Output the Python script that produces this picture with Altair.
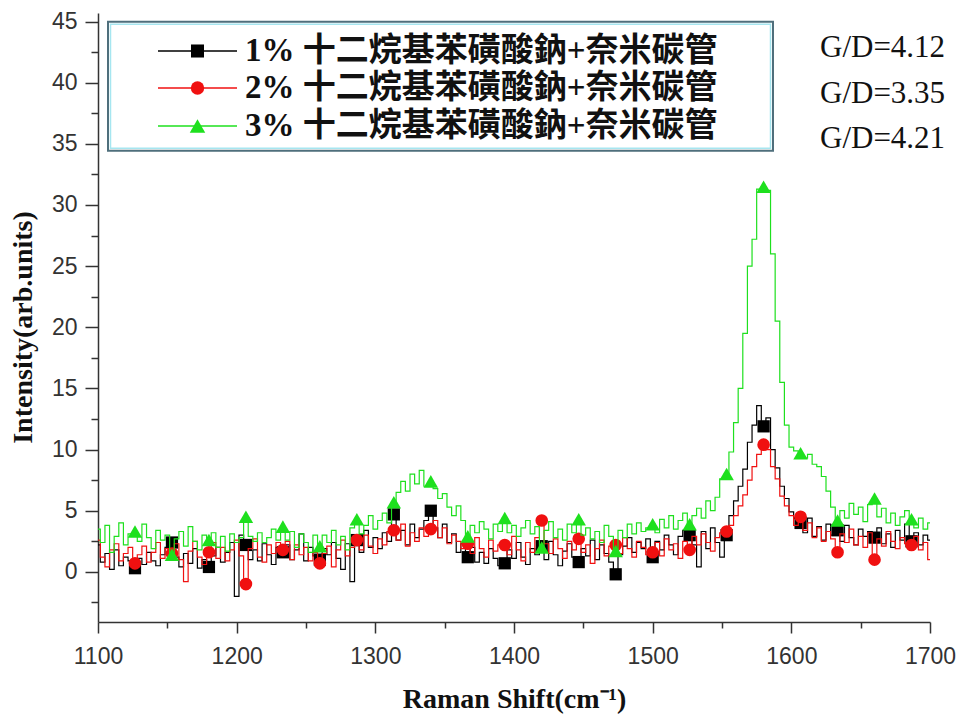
import altair as alt
import pandas as pd

# ---------------- data ----------------
series_names = [
    "1% 十二烷基苯磺酸鈉+奈米碳管",
    "2% 十二烷基苯磺酸鈉+奈米碳管",
    "3% 十二烷基苯磺酸鈉+奈米碳管",
]
series_colors = ["#000000", "#f01010", "#1ee01e"]
series_shapes = ["square", "circle", "triangle-up"]
gd_labels = ["G/D=4.12", "G/D=3.35", "G/D=4.21"]

x_start = 1100
x_step = 10 / 3          # Raman shift sampling (cm-1)
marker_every = 8         # a symbol every 8th sample

y_1pct = [
    2.2, 0.8, 1.5, 0.2, 1.8, 0.5, 1.2, 0.9,
    0.3, 1.1, 0.6, 1.6, 0.9, 0.5, 1.4, 2.0,
    2.4, 1.2, 0.4, 1.5, 0.7, 1.9, 0.3, 1.0,
    0.4, 1.3, 2.0, 0.8, 1.6, 2.4, -2.0, 3.0,
    2.2, 1.0, 1.8, 0.9, 2.3, 1.4, 0.6, 2.0,
    1.6, 2.2, 1.0, 1.8, 3.1, 0.9, 2.0, 1.3,
    1.0, 1.9, 1.4, 2.4, 1.1, 0.2, 2.3, -0.8,
    2.6, 1.6, 3.4, 2.0, 2.8, 1.9, 3.2, 2.5,
    4.7, 2.6, 3.4, 2.2, 3.9, 2.8, 3.5, 4.2,
    5.0, 3.6, 2.8, 3.9, 2.4, 3.1, 1.6, 2.3,
    1.2, 2.0, 0.8, 1.6, 0.7, 1.9, 1.1, 0.5,
    0.7, 1.8, 1.1, 2.4, 1.2, 0.6, 1.9, 1.4,
    2.1, 1.0, 2.5, 1.4, 0.5, 1.7, 2.3, 1.2,
    0.8, 1.9, 1.3, 2.6, 1.0, 2.2, 1.5, 0.8,
    -0.2, 1.4, 2.1, 2.8, 1.6, 2.4, 1.9, 2.7,
    1.2, 2.5, 1.8, 3.0, 2.2, 1.4, 2.9, 3.4,
    3.0, 2.2, 0.4, 3.3, 1.9, 3.6, 2.4, 1.2,
    3.0, 4.6, 5.8, 7.0, 8.4, 10.6, 12.0, 13.6,
    11.9, 12.6, 10.0, 8.5, 7.0, 6.0, 4.9, 4.4,
    4.0, 3.2, 4.4, 2.9, 3.7, 2.6, 3.9, 3.0,
    3.4, 2.5, 3.8, 2.8, 2.2, 3.5, 2.9, 3.3,
    2.8, 3.6, 2.3, 3.1, 2.0, 3.4, 2.6, 3.9,
    2.5, 3.2, 2.2, 3.0, 2.6,
]

y_2pct = [
    2.6, 1.2, 0.4, 1.8, 2.3, 0.9, 1.5, 2.0,
    0.7, 1.4, 2.1, 0.8, 1.6, 2.4, 1.1, 1.9,
    1.5, 2.3, 1.0, -0.8, 1.7, 2.5, 1.2, 0.6,
    1.6, 2.4, 1.1, 2.0, 0.9, 1.8, 2.6, 1.3,
    -1.0, 1.9, 2.7, 1.2, 0.8, 2.2, 1.5, 2.4,
    1.8, 2.5, 1.0, 2.2, 1.4, 2.0, 0.9, 1.6,
    0.7, 1.5, 2.1, 0.4, 1.8, 2.6, 1.3, 2.0,
    2.6, 1.8, 3.0, 2.1, 1.5, 2.7, 2.2, 3.3,
    3.4, 2.6, 3.9, 2.1, 3.2, 2.5, 3.6, 2.9,
    3.5, 4.2, 2.8, 3.6, 2.3, 3.0, 2.5, 1.9,
    2.3, 1.5, 2.8, 1.9, 1.2, 2.6, 1.7, 2.2,
    2.2, 1.4, 2.9, 1.8, 0.9, 2.4, 1.6, 2.8,
    4.2, 2.3, 1.5, 2.7, 1.9, 1.1, 2.5, 1.8,
    2.7, 1.6, 2.2, 0.7, 1.9, 2.6, 1.3, 2.1,
    2.2, 1.5, 2.8, 1.9, 1.2, 2.5, 2.0, 1.4,
    1.6, 2.4, 1.3, 2.7, 1.8, 2.3, 1.1, 2.5,
    1.8, 2.9, 2.2, 3.1, 2.4, 1.7, 2.8, 3.2,
    3.3, 3.8, 4.6, 5.4, 6.3, 7.5, 8.6, 9.6,
    10.4, 10.0, 8.6, 7.6, 6.2, 5.4, 4.6, 3.8,
    4.5, 3.4, 4.0, 2.8, 3.6, 2.5, 3.3, 2.7,
    1.6, 3.1, 2.4, 3.5, 2.2, 2.9, 2.0, 3.2,
    1.0, 2.7, 2.1, 3.3, 2.5, 1.9, 2.8, 2.3,
    2.2, 2.9, 1.8, 2.4, 1.0,
]

y_3pct = [
    3.5, 2.4, 3.8, 1.6, 2.9, 4.0, 2.2, 3.1,
    3.3, 2.5, 3.9, 2.8, 1.9, 3.4, 2.6, 3.0,
    1.4, 2.7, 3.3, 2.1, 3.7, 2.5, 1.8, 3.0,
    2.6, 3.2, 2.0, 2.9, 1.7, 3.1, 2.4, 2.8,
    4.5, 2.9, 2.5, 3.2, 2.4, 2.8, 3.5, 2.6,
    3.7, 2.6, 3.3, 2.0, 3.1, 2.4, 1.6, 3.0,
    2.1, 3.0, 2.4, 3.4, 2.2, 2.9, 1.8, 3.6,
    4.3, 3.1, 3.8, 4.6, 3.5, 4.2, 4.8, 4.0,
    5.7, 6.5, 7.4, 6.6, 8.0, 7.2, 8.3, 7.0,
    7.4, 6.8, 6.0, 6.4, 5.3, 4.6, 5.4, 4.2,
    2.9, 3.8, 3.2, 4.1, 3.5, 2.7, 3.9, 3.3,
    4.4, 3.2, 3.8, 2.9, 3.6, 4.2, 3.1, 3.7,
    2.0, 3.4, 4.1, 2.8, 3.5, 2.6, 3.9, 3.2,
    4.3, 3.0, 3.6, 2.7, 3.3, 2.4, 3.8, 2.9,
    1.7, 3.4, 2.8, 3.9, 3.1, 4.0, 3.3, 3.6,
    3.9, 3.2, 4.3, 3.6, 4.6, 3.5, 4.2, 4.8,
    3.9, 4.6, 5.2, 4.4, 5.8, 5.0, 6.1, 7.6,
    8.0, 9.8, 12.2, 15.0, 19.5, 25.0, 27.2, 31.3,
    31.5, 31.2, 26.0, 20.5, 15.5, 12.0, 10.2, 9.9,
    9.7, 9.3, 9.6, 8.8, 8.6, 7.8, 6.6, 5.3,
    4.2, 5.0, 4.4, 5.6, 4.7, 5.3, 4.1, 5.5,
    6.0, 4.5, 5.2, 4.0, 4.8, 3.8, 4.5, 5.0,
    4.3, 3.6, 4.4, 3.5, 4.0,
]

x_ticks = [1100, 1150, 1200, 1250, 1300, 1350, 1400, 1450, 1500, 1550, 1600, 1650, 1700]
y_ticks = [-2.5, 0, 2.5, 5, 7.5, 10, 12.5, 15, 17.5, 20, 22.5, 25, 27.5, 30,
           32.5, 35, 37.5, 40, 42.5, 45]

# ---------------- styling / layout ----------------
PLOT_W, PLOT_H = 832, 609
AXIS_COL = "#333333"
SERIF = "Liberation Serif, Times New Roman, Noto Sans CJK TC, serif"
SANS = "Liberation Sans, Arial, sans-serif"
marker_sizes = [150, 160, 210]
legend_marker_sizes = [170, 180, 240]

x_scale = alt.Scale(domain=[1100, 1700], nice=False, zero=False)
y_scale = alt.Scale(domain=[-4.1, 45.7], nice=False, zero=False)

x_axis = alt.Axis(
    values=x_ticks,
    labelExpr="datum.value % 100 === 0 ? format(datum.value, 'd') : ''",
    tickSize={"condition": {"test": "datum.value % 100 === 0", "value": 11}, "value": 6},
    labelOverlap=False, labelFlush=False, grid=False,
    domainColor=AXIS_COL, domainWidth=1.5, tickColor=AXIS_COL, tickWidth=1.5,
    labelFont=SANS, labelFontSize=23, labelColor=AXIS_COL, labelPadding=12,
    title="Raman Shift(cm⁻¹)", titleFont=SERIF, titleFontSize=28,
    titleFontWeight="bold", titleColor="#111111", titlePadding=17,
)
y_axis = alt.Axis(
    values=y_ticks,
    labelExpr="datum.value % 5 === 0 ? format(datum.value, 'd') : ''",
    tickSize={"condition": {"test": "datum.value % 5 === 0", "value": 13}, "value": 7},
    labelOverlap=False, labelFlush=False, grid=False,
    domainColor=AXIS_COL, domainWidth=1.5, tickColor=AXIS_COL, tickWidth=1.5,
    labelFont=SANS, labelFontSize=23, labelColor=AXIS_COL, labelPadding=8,
    title="Intensity(arb.units)", titleFont=SERIF, titleFontSize=28,
    titleFontWeight="bold", titleColor="#111111", titlePadding=14, titleY=314,
)

X = alt.X("x:Q", scale=x_scale, axis=x_axis)
Y = alt.Y("y:Q", scale=y_scale, axis=y_axis)

n = len(y_1pct)
xs = [x_start + i * x_step for i in range(n)]

layers = []
for name, ys, color, shape, msize in zip(series_names, [y_1pct, y_2pct, y_3pct],
                                         series_colors, series_shapes, marker_sizes):
    df = pd.DataFrame({"x": xs, "y": ys, "series": name, "idx": list(range(n))})
    line = alt.Chart(df).mark_line(
        color=color, strokeWidth=1.2, clip=True, interpolate="step"
    ).encode(x=X, y=Y, order="idx:Q")
    mk = df[(df["idx"] % marker_every == 0) & (df["idx"] > 0)]
    pts = alt.Chart(mk).mark_point(
        filled=True, shape=shape, size=msize, color=color, opacity=1
    ).encode(x=X, y=Y)
    layers += [line, pts]

# ---------------- legend (boxed, top-left inside plot) ----------------
one = pd.DataFrame({"k": [0]})
box_outer = alt.Chart(one).mark_rect(
    fill="#ffffff", stroke="#4f6f7c", strokeWidth=2
).encode(x=alt.value(10), x2=alt.value(675), y=alt.value(8.7), y2=alt.value(137.7))
box_inner = alt.Chart(one).mark_rect(
    fillOpacity=0, stroke="#a6e6f0", strokeWidth=1.5
).encode(x=alt.value(12.5), x2=alt.value(672.5), y=alt.value(11.2), y2=alt.value(135.2))
layers += [box_outer, box_inner]

legend_rows = [38, 75, 113]
for name, color, shape, ry, lsize in zip(series_names, series_colors, series_shapes,
                                         legend_rows, legend_marker_sizes):
    ldf = pd.DataFrame({"label": [name]})
    layers.append(alt.Chart(ldf).mark_rule(color=color, strokeWidth=1.5).encode(
        x=alt.value(60), x2=alt.value(139), y=alt.value(ry)))
    layers.append(alt.Chart(ldf).mark_point(
        filled=True, shape=shape, size=lsize, color=color, opacity=1
    ).encode(x=alt.value(99.5), y=alt.value(ry)))
    layers.append(alt.Chart(ldf).mark_text(
        align="left", baseline="middle", font=SERIF, fontSize=33,
        fontWeight="bold", color="#111111"
    ).encode(x=alt.value(147), y=alt.value(ry), text="label:N"))

# ---------------- G/D annotations ----------------
gd_rows = [44, 90, 135]
for lab, gy in zip(gd_labels, gd_rows):
    gdf = pd.DataFrame({"label": [lab]})
    layers.append(alt.Chart(gdf).mark_text(
        align="left", baseline="alphabetic", font=SERIF, fontSize=31, color="#111111"
    ).encode(x=alt.value(722), y=alt.value(gy), text="label:N"))

chart = alt.layer(*layers).properties(
    width=PLOT_W, height=PLOT_H,
    padding={"left": 90, "top": 5, "right": 26, "bottom": 92},
    autosize=alt.AutoSizeParams(type="none"),
    background="#ffffff",
).configure_view(strokeWidth=0)

chart.save("out.html", embed_options={"renderer": "svg", "actions": False})
